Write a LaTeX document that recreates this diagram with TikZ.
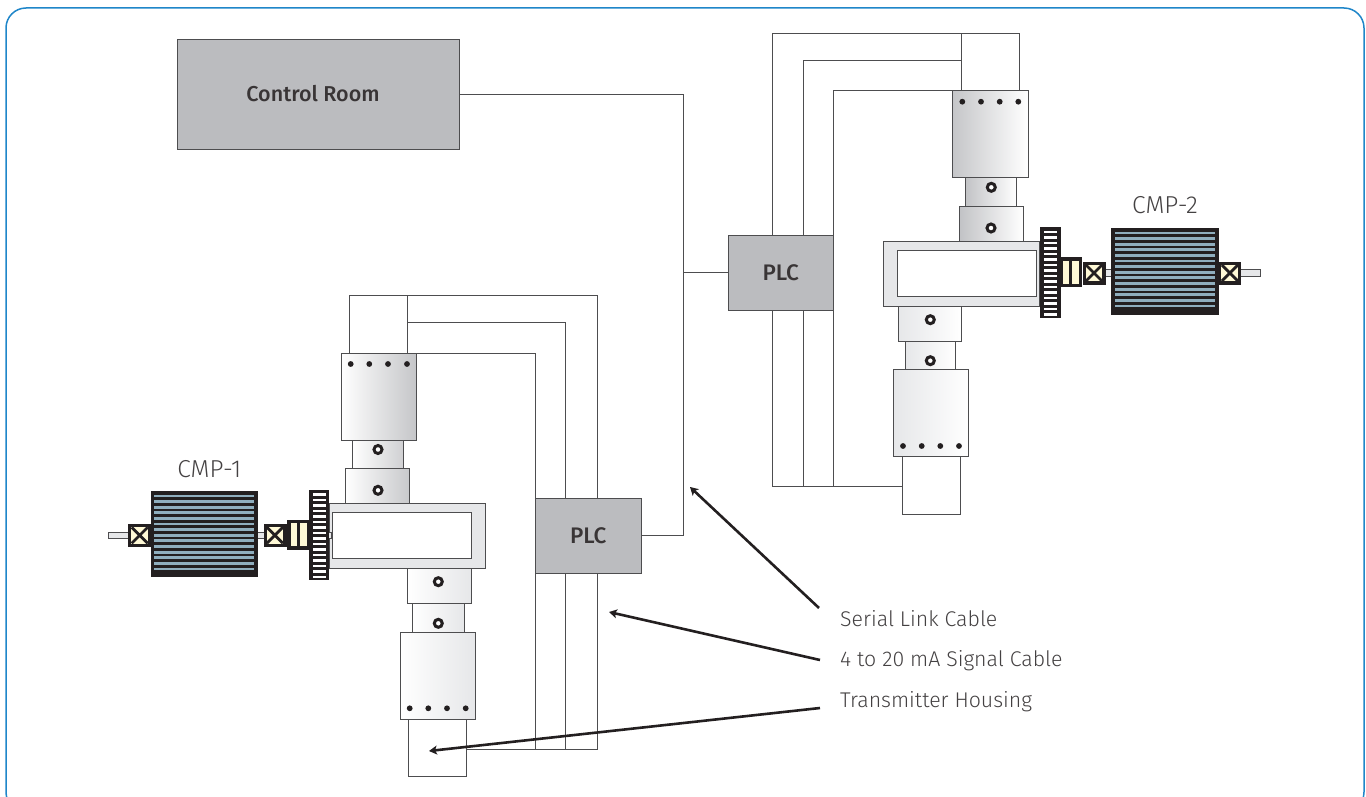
\documentclass[tikz,border=0pt]{standalone}
\usepackage{fontspec}
\setmainfont{Fira Sans Light}
\newfontfamily\medfont{Fira Sans Medium}
\usetikzlibrary{arrows.meta}
\definecolor{frameblue}{HTML}{1F86C9}
\definecolor{ink}{HTML}{231F20}
\definecolor{wire}{HTML}{4D4D4F}
\definecolor{panel}{HTML}{BBBCBF}
\definecolor{bezel}{HTML}{E6E7E9}
\definecolor{cream}{HTML}{FFF9D6}
\definecolor{stripe}{HTML}{8FAEBE}
\tikzset{
  partbox/.style={draw=wire,line width=.9pt,inner sep=0pt,outer sep=0pt,anchor=north west},
  plain/.style={partbox,fill=white},
  greybox/.style={partbox,fill=panel,draw=wire,text=ink!90},
  roomfont/.style={font=\medfont\fontsize{21.5}{24}\selectfont},
  plcfont/.style={font=\medfont\fontsize{22.5}{26}\selectfont},
  bezelbox/.style={partbox,fill=bezel},
  fadeR/.style={partbox,left color=white,right color=#1},
  fadeL/.style={partbox,left color=#1,right color=white},
  wireline/.style={draw=wire,line width=.9pt},
  callout/.style={draw=ink,line width=2.6pt,-{Stealth[length=8pt,width=9pt,inset=2pt]}},
  ring/.style={circle,draw=ink,line width=3pt,fill=white,minimum size=8pt,inner sep=0pt},
  bolt/.style={circle,fill=ink,minimum size=5.8pt,inner sep=0pt},
  darkbox/.style={partbox,draw=ink,fill=ink,line width=.8pt},
  shaft/.style={partbox,fill=bezel,draw=wire,line width=1pt},
  label/.style={anchor=west,inner sep=0pt,text=ink!85,font=\fontsize{21.3}{24}\selectfont},
  cmplabel/.style={inner sep=0pt,text=ink!85,font=\fontsize{24.5}{27}\selectfont},
}
\newcommand{\bx}[7]{\node[#6,minimum width={(#4-#2)*1pt},minimum height={(#5-#3)*1pt}] (#1) at (#2,#3) {#7};}
% motor body with stripes: name x1 y1 x2 y2
\newcommand{\motor}[5]{%
  \bx{#1}{#2}{#3}{#4}{#5}{darkbox}{}
  \foreach \k in {0,...,13}{
    \fill[stripe] ({#2+3},{#3+3}) ++(0,{\k*5.62}) rectangle ++({#4-#2-6},2.8);
  }
}
% bearing: name x y (top-left)
\newcommand{\bearing}[3]{%
  \bx{#1}{#2}{#3}{#2+22}{#3+22}{darkbox}{}
  \fill[cream] ({#2+2.6},{#3+2.6}) rectangle ({#2+19.4},{#3+19.4});
  \draw[ink,line width=2.8pt] ({#2+3},{#3+3}) -- ({#2+19},{#3+19}) ({#2+19},{#3+3}) -- ({#2+3},{#3+19});
}
% coupling: name x y
\newcommand{\coupling}[3]{%
  \bx{#1}{#2}{#3}{#2+22}{#3+29}{darkbox}{}
  \fill[cream] ({#2+2.8},{#3+3}) rectangle ({#2+9.6},{#3+26});
  \fill[cream] ({#2+12.6},{#3+3}) rectangle ({#2+19.4},{#3+26});
}
% gear: name x y
\newcommand{\gearwheel}[3]{%
  \bx{#1}{#2}{#3}{#2+19.2}{#3+89.5}{darkbox}{}
  \foreach \k in {0,...,15}{
    \fill[white] ({#2+3.2},{#3+3.2+\k*5.5}) rectangle ({#2+16},{#3+5.6+\k*5.5});
  }
}
\begin{document}
\begin{tikzpicture}[x=1pt,y=-1pt]
\useasboundingbox (0,0) rectangle (1366,797);
\draw[frameblue,line width=1.5pt,rounded corners=20pt] (6,8) rectangle (1364,812);
\clip (0,0) rectangle (1366,797);

% ---- control room and PLCs
\bx{room}{177}{39}{459}{149}{greybox,roomfont}{\hspace*{-10pt}Control Room}
\bx{plcA}{535.5}{498}{641}{573}{greybox,plcfont}{PLC}
\bx{plcB}{728}{235}{833.5}{310.3}{greybox,plcfont}{PLC}

% ---- left assembly
\bx{topA}{349.5}{295.5}{407.7}{353}{plain}{}
\bx{cylA}{341}{353}{416.5}{440}{fadeR=panel!85}{}
\bx{neckA}{352.5}{440}{403.5}{468.5}{fadeR=panel!70}{}
\bx{collarA}{345.5}{468.5}{409}{503.7}{fadeR=panel!80}{}
\bx{caseA}{329}{503.7}{485.7}{568.7}{bezelbox}{}
\bx{winA}{332.3}{512.3}{471.3}{558.3}{plain}{}
\bx{collarB}{407.5}{568.7}{471}{603.3}{fadeR=bezel}{}
\bx{neckB}{412.7}{603.3}{464}{632}{fadeR=bezel}{}
\bx{cylB}{400}{632}{475.3}{719}{fadeR=bezel}{}
\bx{botA}{408.7}{719}{466.5}{776.7}{plain}{}
\node[ring] (r1) at (378,449.5) {};
\node[ring] (r2) at (378,490.3) {};
\node[ring] (r3) at (438.3,581.7) {};
\node[ring] (r4) at (438.3,623.3) {};
\foreach \n/\x in {a/350.7,b/369.3,c/388,d/407}{\node[bolt] (ba\n) at (\x,364) {};}
\foreach \n/\x in {a/409.7,b/428.3,c/447,d/465.7}{\node[bolt] (bb\n) at (\x,708.3) {};}

% ---- left drive train
\bx{shA}{108}{532.5}{130}{538}{shaft}{}
\bx{shB}{257}{532.5}{265}{538}{shaft}{}
\bx{shC}{285}{532.5}{289}{538}{shaft}{}
\bx{shD}{328}{532.5}{331}{538}{shaft}{}
\motor{motA}{151}{491.5}{257.3}{576}
\bearing{beA}{128.7}{524.3}
\bearing{beB}{263.9}{524.3}
\coupling{coA}{287.7}{520}
\gearwheel{geA}{309.5}{490}

% ---- right assembly
\bx{topB}{961.3}{33}{1019.3}{90.5}{plain}{}
\bx{cylC}{952.7}{90.5}{1028}{177.3}{fadeL=panel!85}{}
\bx{neckC}{965.3}{177.3}{1016.3}{206}{fadeL=panel!90}{}
\bx{collarC}{959.3}{206}{1023.3}{241}{fadeL=panel!90}{}
\bx{caseB}{883.3}{241}{1039.7}{306.3}{bezelbox}{}
\bx{winB}{897.7}{250}{1036.7}{296}{plain}{}
\bx{collarD}{898}{306.3}{961.3}{341}{fadeL=bezel}{}
\bx{neckD}{905}{341}{955.7}{369.7}{fadeL=bezel}{}
\bx{cylD}{893.7}{369.7}{968.7}{456.3}{fadeL=bezel}{}
\bx{botB}{902.3}{456.3}{960.3}{514}{plain}{}
\node[ring] (r5) at (991.3,187.3) {};
\node[ring] (r6) at (991,228) {};
\node[ring] (r7) at (930.3,319.7) {};
\node[ring] (r8) at (930.3,360.7) {};
\foreach \n/\x in {a/962.3,b/981,c/999.7,d/1018.3}{\node[bolt] (bc\n) at (\x,101.7) {};}
\foreach \n/\x in {a/903,b/921.7,c/940.3,d/959}{\node[bolt] (bd\n) at (\x,446) {};}

% ---- right drive train
\bx{shE}{1039}{270}{1042}{276}{shaft}{}
\bx{shF}{1104}{269.5}{1112}{276}{shaft}{}
\bx{shG}{1240}{269.5}{1260.7}{276}{shaft}{}
\motor{motB}{1111.7}{228.5}{1218.3}{314.3}
\bearing{beC}{1083}{262}
\bearing{beD}{1218.8}{262}
\coupling{coB}{1059.7}{257.5}
\gearwheel{geB}{1040.7}{227.5}

% ---- signal cables, left
\coordinate (a1) at (535.5,498); \coordinate (a2) at (565.7,498); \coordinate (a3) at (597,498);
\coordinate (c1) at (535.5,573); \coordinate (c2) at (565.7,573); \coordinate (c3) at (597,573);
\draw[wireline] (cylA.north east) -| (a1);
\draw[wireline] (topA.east |- 0,322.7) -| (a2);
\draw[wireline] (topA.north east) -| (a3);
\draw[wireline] (botA.east |- 0,749) -| (c3);
\draw[wireline] (c1) -- (c1 |- 0,749);
\draw[wireline] (c2) -- (c2 |- 0,749);

% ---- signal cables, right
\coordinate (b1) at (772,235); \coordinate (b2) at (803.3,235); \coordinate (b3) at (833.5,235);
\coordinate (d1) at (772,310.3); \coordinate (d2) at (803.3,310.3); \coordinate (d3) at (833.5,310.3);
\draw[wireline] (topB.west |- 0,33.7) -| (b1);
\draw[wireline] (topB.west |- 0,60.7) -| (b2);
\draw[wireline] (cylC.north west) -| (b3);
\draw[wireline] (botB.west |- 0,486.7) -| (d1);
\draw[wireline] (d2) -- (d2 |- 0,486.7);
\draw[wireline] (d3) -- (d3 |- 0,486.7);

% ---- serial link
\coordinate (bus) at (683,535.5);
\draw[wireline] (room.east) -| (bus) -- (plcA.east);
\draw[wireline] (bus |- plcB.west) -- (plcB.west);

% ---- labels
\node[label] (lblS) at (840,619) {Serial Link Cable};
\node[label] (lblM) at (840,661) {4 to 20 mA Signal Cable};
\node[label] (lblT) at (840,702) {Transmitter Housing};
\node[cmplabel] (cmpA) at (209.3,469) {CMP-1};
\node[cmplabel] (cmpB) at (1165,205) {CMP-2};

% ---- callouts
\coordinate (tS) at (690,487);
\coordinate (tM) at (609,612);
\coordinate (tT) at (429,751);
\draw[callout] (819,608) -- (tS);
\draw[callout] (820,660) -- (tM);
\draw[callout] (820,708) -- (tT);
\end{tikzpicture}
\end{document}
